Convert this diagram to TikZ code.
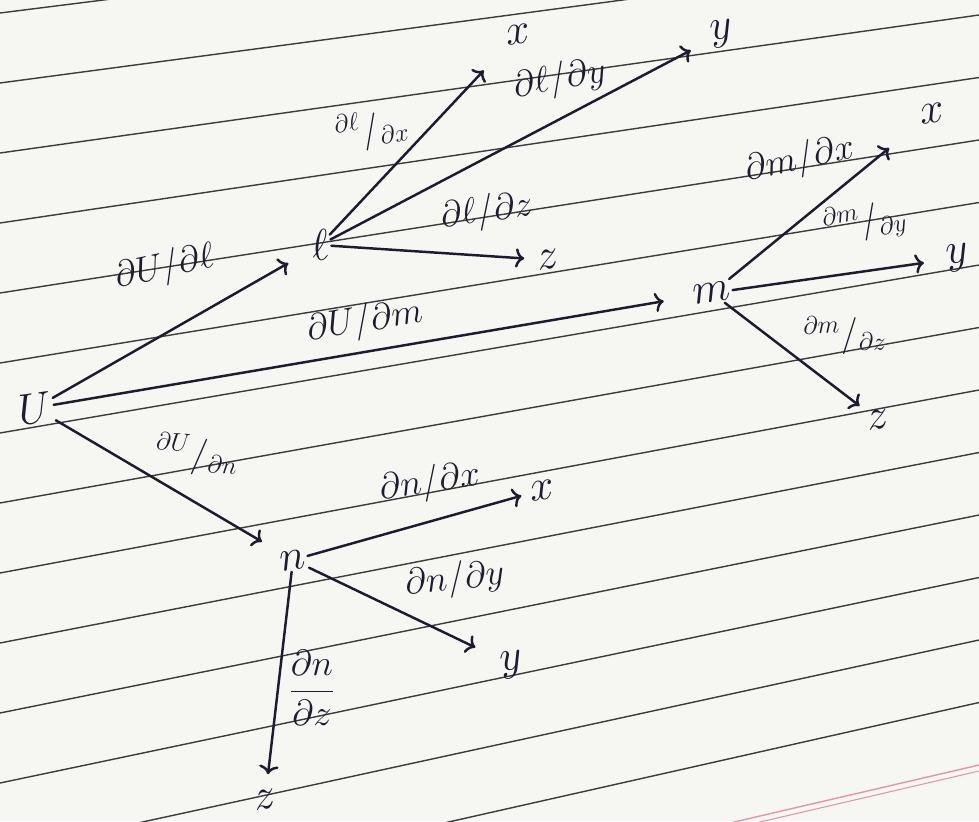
\documentclass[tikz,border=0pt]{standalone}
\usetikzlibrary{arrows.meta}
\definecolor{ink}{RGB}{28,28,46}
\definecolor{paper}{RGB}{246,246,243}
\definecolor{ruling}{RGB}{60,60,60}
\definecolor{pinkrule}{RGB}{225,150,170}
\begin{document}
\begin{tikzpicture}[x=0.02cm,y=-0.02cm,
  v/.style={text=ink, font=\fontsize{28}{32}\selectfont, inner sep=1pt, rotate=8},
  lab/.style={text=ink, font=\fontsize{21}{25}\selectfont, inner sep=1pt},
  br/.style={draw=ink, line width=1.4pt, line cap=round, -{To[length=5pt,width=11pt]}}]
\useasboundingbox (0,0) rectangle (979,821);
\fill[paper] (0,0) rectangle (979,821);
\begin{scope}
\clip (0,0) rectangle (979,821);
\foreach \i in {0,...,13} { \draw[ruling, line width=0.8pt] (0,13+70*\i) -- (979,-110+62.5*\i); }
\draw[pinkrule, line width=0.8pt] (0,993) -- (979,765);
\draw[pinkrule, line width=0.6pt] (0,999) -- (979,771);
\end{scope}

% main variables
\node[v] (U) at (35,408) {$U$};
\node[v] (l) at (320,245) {$\ell$};
\node[v] (m) at (712,293) {$m$};
\node[v] (n) at (293,560) {$n$};
% leaves
\node[v] (lx) at (518,34) {$x$};
\node[v] (ly) at (722,34) {$y$};
\node[v] (lz) at (548,260) {$z$};
\node[v] (mx) at (932,113) {$x$};
\node[v] (my) at (958,258) {$y$};
\node[v] (mz) at (878,420) {$z$};
\node[v] (nx) at (542,490) {$x$};
\node[v] (ny) at (512,665) {$y$};
\node[v] (nz) at (265,800) {$z$};

% connectors
\draw[br, shorten >=14pt] (U) -- (l);
\draw[br, shorten >=16pt] (U) -- (m);
\draw[br, shorten >=10pt] (U) -- (n);
\draw[br, shorten >=18pt] (l) -- (lx);
\draw[br, shorten >=12pt] (l) -- (ly);
\draw[br, shorten >=6pt] (l) -- (lz);
\draw[br, shorten >=22pt] (m) -- (mx);
\draw[br, shorten >=12pt] (m) -- (my);
\draw[br, shorten >=4pt] (m) -- (mz);
\draw[br, shorten >=4pt] (n) -- (nx);
\draw[br, shorten >=14pt] (n) -- (ny);
\draw[br, shorten >=8pt] (n) -- (nz);

% labels
\node[lab, rotate=12] (Ul) at (165,268) {$\partial U/\partial \ell$};
\node[lab, rotate=9] (Um) at (365,322) {$\partial U/\partial m$};
\node[lab, rotate=-4] (Un) at (197,455) {${}^{\partial U}/{}_{\partial n}$};
\node[lab, rotate=10] (Llx) at (372,130) {${}^{\partial\ell}/{}_{\partial x}$};
\node[lab, rotate=10] (Lly) at (560,80) {$\partial\ell/\partial y$};
\node[lab, rotate=8] (Llz) at (487,212) {$\partial\ell/\partial z$};
\node[lab, rotate=12] (Lmx) at (800,160) {$\partial m/\partial x$};
\node[lab, rotate=10] (Lmy) at (865,222) {${}^{\partial m}/{}_{\partial y}$};
\node[lab, rotate=2] (Lmz) at (845,335) {${}^{\partial m}/{}_{\partial z}$};
\node[lab, rotate=8] (Lnx) at (430,483) {$\partial n/\partial x$};
\node[lab, rotate=6] (Lny) at (455,580) {$\partial n/\partial y$};
\node[lab] (Lnz) at (312,688) {$\displaystyle\frac{\partial n}{\partial z}$};
\end{tikzpicture}
\end{document}
